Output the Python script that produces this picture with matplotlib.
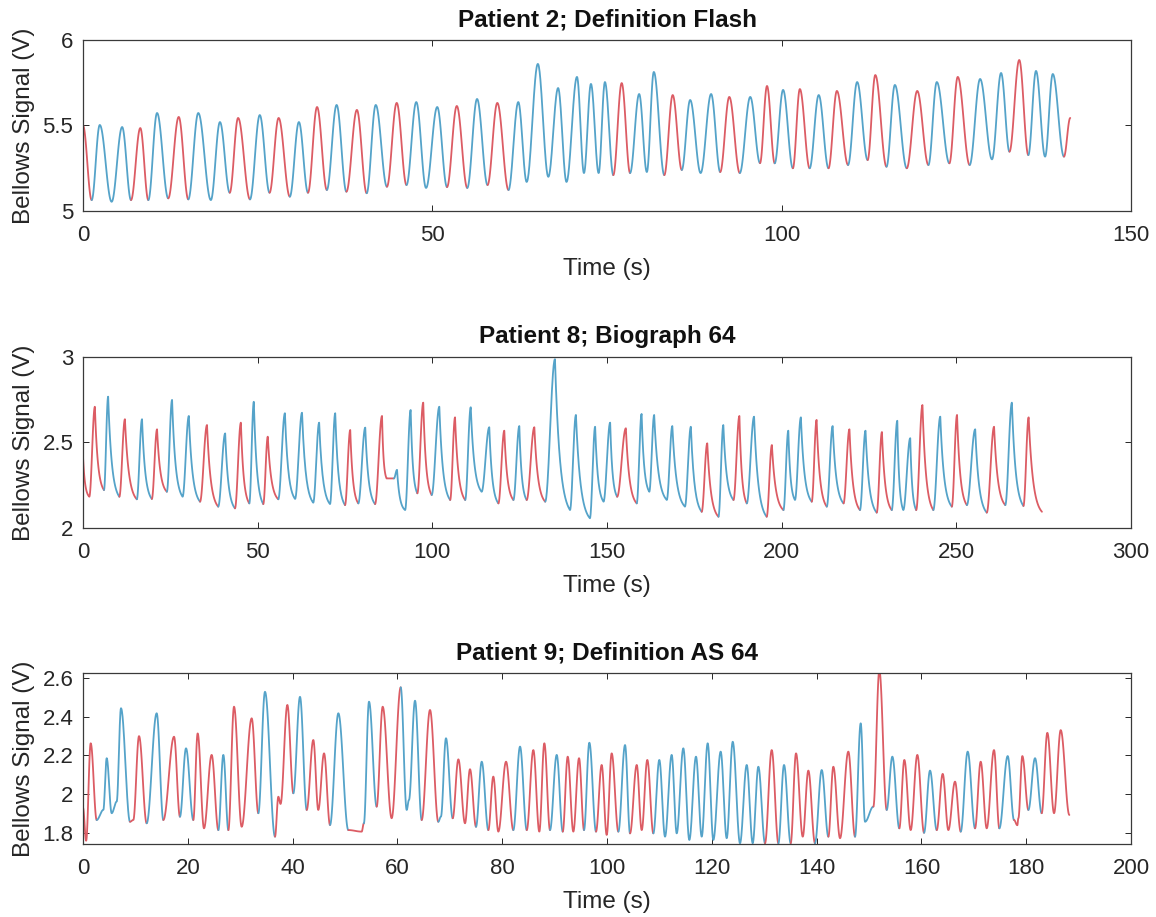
import numpy as np
import matplotlib
matplotlib.use("Agg")
import matplotlib.pyplot as plt
from matplotlib.ticker import FormatStrFormatter

# --- 1. Paramètres généraux ---
plt.rcParams['font.family'] = ['Liberation Sans', 'DejaVu Sans']
BLUE = '#55a3c9'
RED = '#dc5c64'
COLOURS = {'b': BLUE, 'r': RED}
output_path = "out.png"

# --- 2. Données (points tournants du signal) ---
# Patient 2 ; Definition Flash
p1_t = [0.0, 1.24,
        2.4, 4.1, 5.6, 6.87, 8.2, 9.35, 10.6, 12.2, 13.7, 15.07, 16.5, 18.3, 19.6, 21.0,
        22.2, 23.9, 25.3, 26.7, 28.0, 29.6, 30.9, 32.2, 33.5, 34.9, 36.3, 37.7, 39.2, 40.6, 41.9, 43.5,
        44.9, 46.3, 47.7, 49.1, 50.7, 52.1, 53.5, 55.0, 56.4, 57.9, 59.3, 60.9, 62.3, 63.5,
        65.1, 66.6, 68.0, 69.2, 70.7, 71.7, 72.7, 73.8, 74.7, 75.9, 77.1, 78.3, 79.6, 80.7,
        81.7, 83.2, 84.4, 85.7, 86.9, 88.4, 89.9, 91.2, 92.5, 94.0, 95.5, 96.9, 97.9, 99.0,
        100.2, 101.6, 102.6, 104.0, 105.3, 106.7, 107.9, 109.5, 110.8, 112.3, 113.4, 115.0,
        116.2, 117.9, 119.4, 121.0, 122.2, 124.0, 125.2, 126.9, 128.4, 130.1, 131.4, 132.6,
        134.0, 135.3, 136.4, 137.7, 138.8, 140.4, 141.3]
p1_v = [5.50, 5.064,
        5.503, 5.054, 5.491, 5.064, 5.485, 5.064, 5.573, 5.074, 5.550, 5.068, 5.573, 5.064, 5.520, 5.107,
        5.544, 5.068, 5.561, 5.107, 5.544, 5.084, 5.520, 5.107, 5.608, 5.123, 5.620, 5.113, 5.591, 5.104, 5.620, 5.142,
        5.632, 5.152, 5.637, 5.135, 5.608, 5.140, 5.614, 5.135, 5.655, 5.152, 5.632, 5.123, 5.637, 5.170,
        5.860, 5.200, 5.719, 5.170, 5.784, 5.222, 5.743, 5.222, 5.754, 5.210, 5.748, 5.222, 5.684, 5.228,
        5.813, 5.210, 5.678, 5.240, 5.649, 5.222, 5.684, 5.228, 5.667, 5.222, 5.667, 5.280, 5.731, 5.279,
        5.708, 5.250, 5.713, 5.250, 5.678, 5.250, 5.702, 5.269, 5.754, 5.298, 5.795, 5.259,
        5.737, 5.250, 5.702, 5.269, 5.754, 5.279, 5.784, 5.269, 5.772, 5.302, 5.807, 5.347,
        5.883, 5.327, 5.819, 5.318, 5.801, 5.318, 5.544]
p1_c = ("r bb bb rr bb rr bb bb rr bb rr bb rr bb rr bb"
        " rr bb bb rr bb rr bb bb bb bb bb bb rr bb bb rr bb bb rr bb rr"
        " bb rr bb rr bb rr bb rr bb rr bb bb rr bb bb r")

# Patient 8 ; Biograph 64
p2_t = [0.0, 1.8, 3.4, 6.0, 7.2, 10.4, 12.0, 15.4, 16.9, 19.7, 21.2, 24.0, 25.5, 28.5, 30.3, 33.5,
        35.5, 38.7, 40.7, 43.5, 45.2, 47.6, 48.9, 51.6, 52.9, 55.9, 57.8, 60.7, 62.7, 65.9, 67.6,
        70.7, 72.2, 75.0, 76.5, 78.8, 80.8, 83.6, 85.6,
        86.9, 89.0, 89.9, 92.2,
        93.8, 95.7, 97.4, 99.8, 102.0, 105.1, 106.5, 109.4, 111.0, 114.1, 116.3, 118.9, 120.6, 123.2,
        124.9, 127.0, 129.2, 132.3, 135.1, 139.4, 141.1, 145.1, 146.6, 149.0, 150.9, 152.9, 155.4, 158.5,
        159.9, 162.1, 163.5, 167.1, 168.7, 172.3, 174.0, 177.1, 178.7, 181.9, 183.3, 186.2, 187.9, 190.0,
        192.1, 195.7,
        197.2, 200.5, 201.9, 203.8, 205.5, 208.6, 210.0, 212.9, 214.6, 217.7, 219.4, 222.4, 224.0, 227.2,
        228.7, 231.5, 233.1, 234.8, 236.8, 238.5, 240.3, 243.4, 245.4, 248.7, 250.2, 253.0, 255.4, 258.7,
        260.8, 264.0, 265.9, 269.2, 270.7, 274.5]
p2_v = [2.417, 2.183, 2.709, 2.222, 2.768, 2.183, 2.636, 2.168, 2.636, 2.170, 2.577, 2.212, 2.749, 2.183, 2.655, 2.154,
        2.602, 2.125, 2.553, 2.115, 2.616, 2.144, 2.738, 2.140, 2.534, 2.168, 2.671, 2.170, 2.674, 2.148, 2.616,
        2.140, 2.671, 2.134, 2.573, 2.144, 2.587, 2.140, 2.655,
        2.290, 2.290, 2.340, 2.105,
        2.690, 2.203, 2.733, 2.193, 2.709, 2.164, 2.647, 2.164, 2.706, 2.212, 2.589, 2.144, 2.569, 2.164,
        2.596, 2.164, 2.589, 2.154, 2.987, 2.105, 2.661, 2.057, 2.592, 2.154, 2.616, 2.183, 2.583, 2.144,
        2.667, 2.212, 2.661, 2.164, 2.596, 2.125, 2.592, 2.095, 2.495, 2.066, 2.602, 2.164, 2.655, 2.144,
        2.651, 2.066,
        2.485, 2.105, 2.569, 2.164, 2.647, 2.154, 2.632, 2.125, 2.596, 2.144, 2.577, 2.105, 2.569, 2.090,
        2.561, 2.105, 2.627, 2.105, 2.525, 2.105, 2.719, 2.105, 2.651, 2.125, 2.661, 2.134, 2.577, 2.090,
        2.592, 2.134, 2.733, 2.129, 2.647, 2.095]
p2_c = ("r rr bb rr bb rr bb bb rr bb rr bb rr bb bb bb bb rr bb r"
        " rrbb"
        " bb rr bb rr bb bb rr bb rr bb bb bb bb rr bb bb bb bb rr bb rr bb"
        " rr bb bb rr bb rr bb rr bb bb rr bb rr bb rr bb rr")

# Patient 9 ; Definition AS 64
p3_t = [0.0, 0.6, 1.47, 2.61, 3.88, 4.52, 5.47, 6.43, 7.25, 8.97,
        9.6, 10.69, 12.15, 14.06, 15.33, 17.37, 18.5, 19.66, 21.05, 21.88,
        23.09, 24.55, 25.83, 26.78, 27.74, 28.82, 30.28, 32.19, 33.46, 34.73,
        36.64, 37.28, 37.7, 39.0, 40.14, 41.41, 42.69, 43.95, 44.9, 46.0,
        47.14, 48.73, 50.63, 53.18, 53.6, 54.58, 56.04, 57.19, 58.9, 60.63,
        61.77, 62.2, 63.36, 64.63, 66.22, 67.8, 68.3, 69.27, 70.55, 71.63,
        72.9, 73.85, 75.0, 76.09, 77.35, 78.3, 79.26, 80.73, 82.12, 83.4,
        84.68, 85.94, 87.08, 88.04, 89.12, 90.4, 91.55, 92.5, 93.57, 94.66,
        95.61, 96.63, 97.9, 98.98, 99.94, 100.89, 102.16, 103.44, 104.39, 105.67,
        106.62, 107.69, 108.84, 109.98, 111.07, 112.34, 113.3, 114.56, 115.71, 116.98,
        118.07, 119.21, 120.29, 121.69, 122.84, 123.99, 125.38, 126.66, 127.8, 128.88,
        130.15, 131.43, 132.7, 133.78, 135.05, 136.07, 137.35, 138.42, 139.69, 140.97,
        142.24, 143.19, 144.47, 146.05, 147.33, 148.41, 149.24, 150.83, 151.97, 153.37,
        154.45, 155.78, 156.74, 157.95, 159.22, 160.5, 161.64, 162.92, 164.06, 165.14,
        166.41, 167.5, 168.83, 170.23, 171.31, 172.46, 173.85, 174.87, 176.46, 177.67,
        178.3, 178.5, 179.26, 180.41, 181.68, 182.95, 184.03, 185.31, 186.58, 188.23]
p3_v = [1.93, 1.76, 2.263, 1.867, 1.919, 2.186, 1.902, 1.962, 2.444, 1.858,
        1.867, 2.30, 1.85, 2.418, 1.867, 2.297, 1.884, 2.237, 1.867, 2.314,
        1.824, 2.203, 1.815, 2.203, 1.815, 2.452, 1.832, 2.392, 1.902, 2.529,
        1.781, 1.987, 1.95, 2.461, 2.005, 2.503, 1.919, 2.28, 1.919, 2.211,
        1.841, 2.418, 1.815, 1.807, 1.85, 2.478, 1.936, 2.452, 1.876, 2.552,
        1.919, 1.97, 2.483, 1.867, 2.435, 1.858, 1.884, 2.289, 1.876, 2.18,
        1.85, 2.129, 1.832, 2.168, 1.815, 2.091, 1.807, 2.168, 1.815, 2.246,
        1.815, 2.228, 1.807, 2.263, 1.815, 2.203, 1.807, 2.194, 1.807, 2.186,
        1.815, 2.266, 1.807, 2.151, 1.79, 2.211, 1.807, 2.254, 1.798, 2.151,
        1.815, 2.177, 1.798, 2.177, 1.781, 2.203, 1.798, 2.237, 1.764, 2.194,
        1.781, 2.263, 1.764, 2.22, 1.773, 2.271, 1.747, 2.151, 1.747, 2.142,
        1.747, 2.228, 1.747, 2.151, 1.747, 2.211, 1.781, 2.122, 1.747, 2.125,
        1.781, 2.142, 1.773, 2.22, 1.781, 2.366, 1.858, 1.936, 2.64, 1.919,
        2.194, 1.824, 2.177, 1.815, 2.203, 1.801, 2.122, 1.815, 2.105, 1.815,
        2.065, 1.807, 2.22, 1.824, 2.168, 1.824, 2.228, 1.824, 2.197, 1.867,
        1.84, 1.876, 2.197, 1.919, 2.186, 1.902, 2.317, 1.902, 2.331, 1.893]
p3_c = ("rrrbbbbbbr rrbbrrbbrr rrbbrrrrbb rrrrbbrrrr bbrrbbrrrb bbbrrbbbrr"
        " rrbbrrrrbb rrrrbbrrrr bbrrrrbbrr rrbbbbbbbb bbbbbbbbbb rrbbrrrrbb"
        " rrrrbbbrrb brrrrbbrrr rbbrrrrbbr rrrbbrrrr")

titles = ["Patient 2; Definition Flash", "Patient 8; Biograph 64", "Patient 9; Definition AS 64"]
x_limits = [(0, 150), (0, 300), (0, 200)]
x_ticks = [np.arange(0, 151, 50), np.arange(0, 301, 50), np.arange(0, 201, 20)]
y_limits = [(5, 6), (2, 3), (1.743, 2.626)]
y_ticks = [[5, 5.5, 6], [2, 2.5, 3], [1.8, 2.0, 2.2, 2.4, 2.6]]


# --- 3. Fonctions de tracé ---
def smooth_segments(t, v, decay_k=0.0, n=30):
    """Relie les points tournants par des arcs lissés (montée en cosinus, descente exponentielle optionnelle)."""
    segs = []
    s = np.linspace(0, 1, n)
    for i in range(len(t) - 1):
        if decay_k > 0 and v[i + 1] < v[i]:
            f = (1 - np.exp(-decay_k * s)) / (1 - np.exp(-decay_k))
        else:
            f = (1 - np.cos(np.pi * s)) / 2
        segs.append((t[i] + (t[i + 1] - t[i]) * s, v[i] + (v[i + 1] - v[i]) * f))
    return segs


def draw_trace(ax, t, v, colours, decay_k=0.0):
    colours = colours.replace(" ", "")
    segs = smooth_segments(t, v, decay_k)
    i = 0
    while i < len(segs):
        j = i
        while j + 1 < len(segs) and colours[j + 1] == colours[i]:
            j += 1
        xs = np.concatenate([segs[k][0] if k == i else segs[k][0][1:] for k in range(i, j + 1)])
        ys = np.concatenate([segs[k][1] if k == i else segs[k][1][1:] for k in range(i, j + 1)])
        ax.plot(xs, ys, color=COLOURS[colours[i]], lw=1.3, solid_capstyle='round')
        i = j + 1


# --- 4. Figure ---
fig = plt.figure(figsize=(11.56, 9.17), dpi=100)
positions = [[0.0718, 0.7699, 0.9066, 0.1865],
             [0.0718, 0.4242, 0.9066, 0.1865],
             [0.0718, 0.0796, 0.9066, 0.1865]]
traces = [(p1_t, p1_v, p1_c, 0.0), (p2_t, p2_v, p2_c, 3.0), (p3_t, p3_v, p3_c, 0.0)]

for k in range(3):
    ax = fig.add_axes(positions[k])
    t, v, c, dk = traces[k]
    draw_trace(ax, t, v, c, decay_k=dk)
    ax.set_xlim(*x_limits[k])
    ax.set_ylim(*y_limits[k])
    ax.set_xticks(x_ticks[k])
    ax.set_yticks(y_ticks[k])
    ax.yaxis.set_major_formatter(FormatStrFormatter('%g'))
    ax.tick_params(direction='in', top=True, right=True, length=4, width=0.7,
                   labelsize=16, colors='#262626')
    ax.tick_params(axis='x', pad=10)
    ax.tick_params(axis='y', pad=7)
    for sp in ax.spines.values():
        sp.set_color('#3a3a3a')
        sp.set_linewidth(0.9)
    ax.set_title(titles[k], fontsize=17.5, fontweight='bold', color='#111111', pad=10)
    ax.set_xlabel("Time (s)", fontsize=17.5, color='#262626', labelpad=9)
    ax.set_ylabel("Bellows Signal (V)", fontsize=17.5, color='#262626', labelpad=5)

fig.savefig(output_path, dpi=100)
print("Figure sauvegardée :", output_path)
